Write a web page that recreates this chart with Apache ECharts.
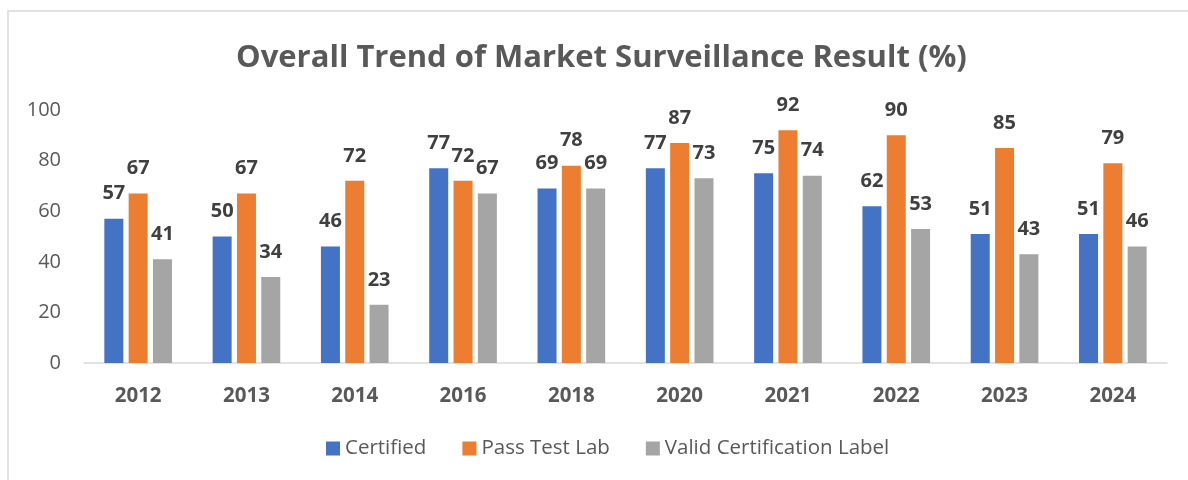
<!DOCTYPE html>
<html>
<head>
<meta charset="utf-8">
<script src="https://cdn.jsdelivr.net/npm/echarts@6/dist/echarts.min.js"></script>
<style>
  html, body { margin: 0; padding: 0; background: #fff; }
  #chart { width: 1188px; height: 480px; }
</style>
</head>
<body>
<div id="chart"></div>
<script>
const years = ['2012', '2013', '2014', '2016', '2018', '2020', '2021', '2022', '2023', '2024']
const certified = [57, 50, 46, 77, 69, 77, 75, 62, 51, 51]
const passTestLab = [67, 67, 72, 72, 78, 87, 92, 90, 85, 79]
const validLabel = [41, 34, 23, 67, 69, 73, 74, 53, 43, 46]
const yTicks = [0, 20, 40, 60, 80, 100]

const font = 'Open Sans'
// étiquettes de valeur au-dessus des barres
const labelStyle = {
  show: true,
  position: 'top',
  distance: 15,
  fontFamily: font,
  fontWeight: 'bold',
  fontSize: 20,
  color: '#404040'
}

const makeSeries = (name, data, color) => ({
  name: name,
  type: 'bar',
  data: data,
  barWidth: 19,
  barGap: '28%',
  itemStyle: { color: color },
  label: labelStyle
})

const chart = echarts.init(document.getElementById('chart'))
chart.setOption({
  animation: false,
  title: {
    text: 'Overall Trend of Market Surveillance Result (%)',
    left: 231,
    top: 38,
    textStyle: { fontFamily: font, fontSize: 31, fontWeight: 'bold', color: '#595959' }
  },
  graphic: [{
    type: 'rect',
    shape: { x: 8, y: 11, width: 1200, height: 500 },
    style: { fill: 'none', stroke: '#d9d9d9', lineWidth: 1.5 }
  }],
  legend: {
    top: 433,
    left: 321,
    itemWidth: 14,
    itemHeight: 14,
    itemGap: 36,
    icon: 'rect',
    textStyle: { fontFamily: font, fontSize: 20.5, color: '#595959' }
  },
  grid: { left: 84, right: 21, top: 110, bottom: 117 },
  xAxis: {
    type: 'category',
    data: years,
    axisTick: { show: false },
    axisLine: { lineStyle: { color: '#d9d9d9', width: 1.5 } },
    axisLabel: { fontFamily: font, fontSize: 20.5, fontWeight: 'bold', color: '#595959', margin: 23 }
  },
  yAxis: {
    type: 'value',
    min: yTicks[0],
    max: yTicks[yTicks.length - 1],
    interval: 20,
    splitLine: { show: false },
    axisLine: { show: false },
    axisTick: { show: false },
    axisLabel: { fontFamily: font, fontSize: 20, color: '#595959', margin: 23 }
  },
  series: [
    makeSeries('Certified', certified, '#4472c4'),
    makeSeries('Pass Test Lab', passTestLab, '#ed7d31'),
    makeSeries('Valid Certification Label', validLabel, '#a5a5a5')
  ]
})
</script>
</body>
</html>
